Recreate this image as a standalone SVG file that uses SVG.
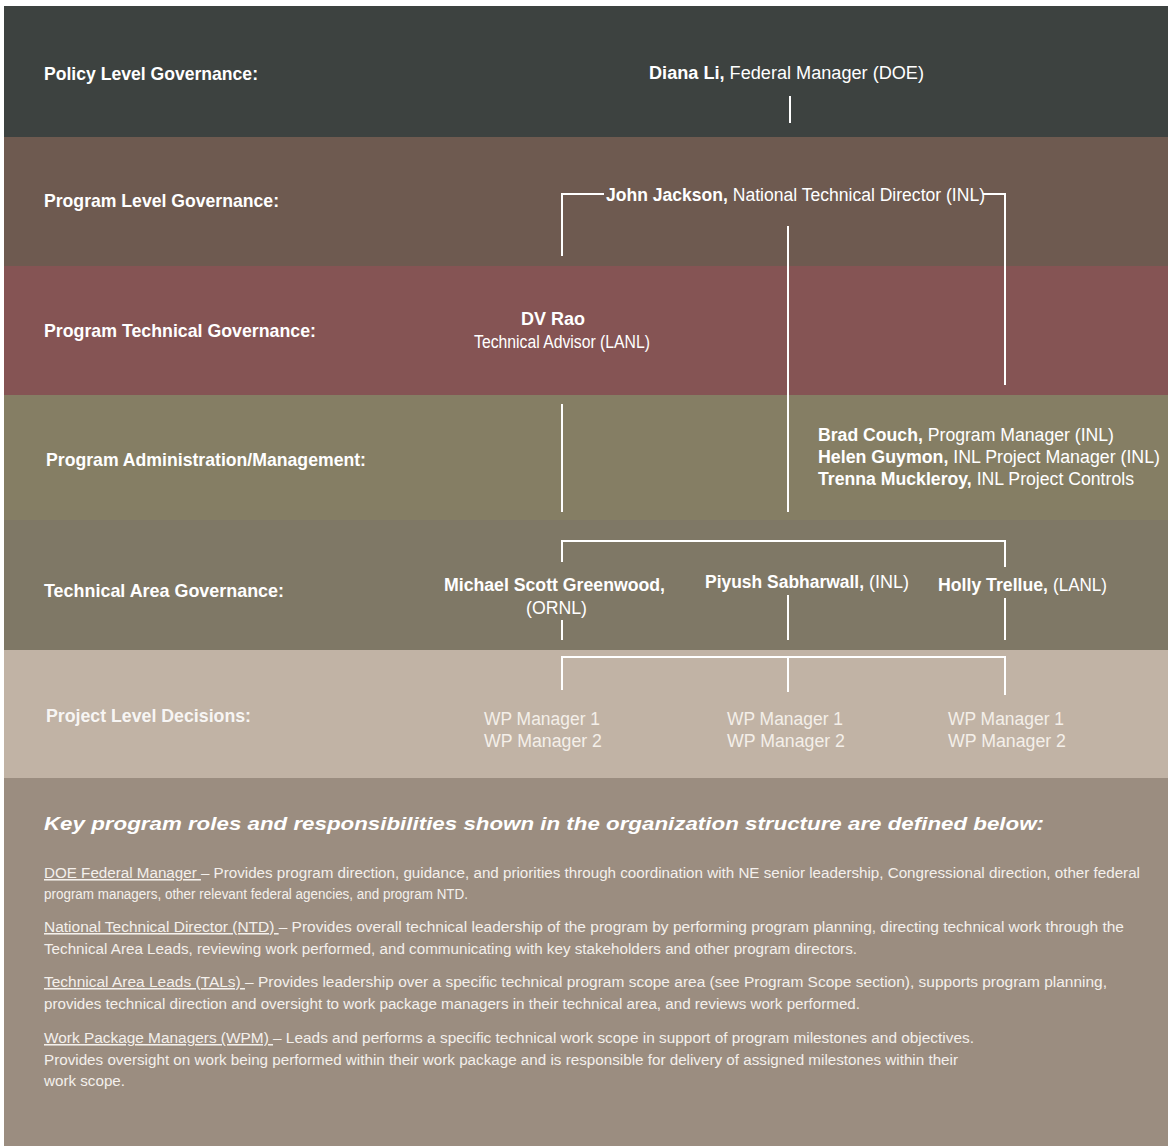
<svg xmlns="http://www.w3.org/2000/svg" width="1168" height="1146" viewBox="0 0 1168 1146">
<style>
.lbl{font-family:"Liberation Sans",Arial,sans-serif;font-weight:bold;font-size:19px;fill:#ffffff}
.nm{font-family:"Liberation Sans",Arial,sans-serif;font-size:18px;fill:#ffffff}
.b{font-weight:bold}
.wp{font-family:"Liberation Sans",Arial,sans-serif;font-size:18px;fill:#f4efe9}
.hd{font-family:"Liberation Sans",Arial,sans-serif;font-size:19px;font-weight:bold;font-style:italic;fill:#ffffff}
.bd{font-family:"Liberation Sans",Arial,sans-serif;font-size:15.5px;fill:#f4f0ec}
.u{text-decoration:underline}
.con{stroke:#ffffff;stroke-width:2;fill:none}
</style>
<rect x="0" y="0" width="1168" height="1146" fill="#ffffff"/>
<g id="bands">
<rect x="4" y="6" width="1164" height="131" fill="#3d4240"/>
<rect x="4" y="137" width="1164" height="129" fill="#6e5a50"/>
<rect x="4" y="266" width="1164" height="129" fill="#855454"/>
<rect x="4" y="395" width="1164" height="125" fill="#857e64"/>
<rect x="4" y="520" width="1164" height="130" fill="#7f7866"/>
<rect x="4" y="650" width="1164" height="128" fill="#c1b3a5"/>
<rect x="4" y="778" width="1164" height="368" fill="#9b8d80"/>
</g>
<g id="level-labels">
<text class="lbl" x="44" y="80" textLength="214" lengthAdjust="spacingAndGlyphs">Policy Level Governance:</text>
<text class="lbl" x="44" y="207" textLength="235" lengthAdjust="spacingAndGlyphs">Program Level Governance:</text>
<text class="lbl" x="44" y="337" textLength="272" lengthAdjust="spacingAndGlyphs">Program Technical Governance:</text>
<text class="lbl" x="46" y="466" textLength="320" lengthAdjust="spacingAndGlyphs">Program Administration/Management:</text>
<text class="lbl" x="44" y="597" textLength="240" lengthAdjust="spacingAndGlyphs">Technical Area Governance:</text>
<text class="lbl" x="46" y="722" textLength="205" lengthAdjust="spacingAndGlyphs" fill-opacity="0.9">Project Level Decisions:</text>
</g>
<g id="connectors">
<line class="con" x1="790" y1="96" x2="790" y2="123"/>
<path class="con" d="M604,194 H562 V256"/>
<path class="con" d="M983,194 H1005 V385"/>
<line class="con" x1="788" y1="226" x2="788" y2="512"/>
<line class="con" x1="562" y1="404" x2="562" y2="512"/>
<path class="con" d="M562,562 V541 H1005 V567"/>
<line class="con" x1="562" y1="620" x2="562" y2="640"/>
<line class="con" x1="788" y1="595" x2="788" y2="640"/>
<line class="con" x1="1005" y1="598" x2="1005" y2="640"/>
<path class="con" d="M562,690 V657 H1005 V695"/>
<line class="con" x1="788" y1="657" x2="788" y2="692"/>
</g>
<g id="node-diana">
<text class="nm" x="649" y="79" textLength="275" lengthAdjust="spacingAndGlyphs"><tspan class="b">Diana Li,</tspan> Federal Manager (DOE)</text>
</g>
<g id="node-jackson">
<text class="nm" x="606" y="201" textLength="379" lengthAdjust="spacingAndGlyphs"><tspan class="b">John Jackson,</tspan> National Technical Director (INL)</text>
</g>
<g id="node-rao">
<text class="nm b" x="553" y="325" text-anchor="middle" textLength="64" lengthAdjust="spacingAndGlyphs">DV Rao</text>
<text class="nm" x="562" y="348" text-anchor="middle" textLength="176" lengthAdjust="spacingAndGlyphs">Technical Advisor (LANL)</text>
</g>
<g id="node-admin">
<text class="nm" x="818" y="441" textLength="296" lengthAdjust="spacingAndGlyphs"><tspan class="b">Brad Couch,</tspan> Program Manager (INL)</text>
<text class="nm" x="818" y="463" textLength="342" lengthAdjust="spacingAndGlyphs"><tspan class="b">Helen Guymon,</tspan> INL Project Manager (INL)</text>
<text class="nm" x="818" y="485" textLength="316" lengthAdjust="spacingAndGlyphs"><tspan class="b">Trenna Muckleroy,</tspan> INL Project Controls</text>
</g>
<g id="node-greenwood">
<text class="nm b" x="444" y="591" textLength="221" lengthAdjust="spacingAndGlyphs">Michael Scott Greenwood,</text>
<text class="nm" x="526" y="614" textLength="61" lengthAdjust="spacingAndGlyphs">(ORNL)</text>
</g>
<g id="node-sabharwall">
<text class="nm b" x="705" y="588" textLength="159" lengthAdjust="spacingAndGlyphs">Piyush Sabharwall,</text>
<text class="nm" x="869" y="588" textLength="40" lengthAdjust="spacingAndGlyphs">(INL)</text>
</g>
<g id="node-trellue">
<text class="nm b" x="938" y="591" textLength="110" lengthAdjust="spacingAndGlyphs">Holly Trellue,</text>
<text class="nm" x="1053" y="591" textLength="54" lengthAdjust="spacingAndGlyphs">(LANL)</text>
</g>
<g id="node-wp-left">
<text class="wp" x="484" y="725" textLength="116" lengthAdjust="spacingAndGlyphs">WP Manager 1</text>
<text class="wp" x="484" y="747" textLength="118" lengthAdjust="spacingAndGlyphs">WP Manager 2</text>
</g>
<g id="node-wp-mid">
<text class="wp" x="727" y="725" textLength="116" lengthAdjust="spacingAndGlyphs">WP Manager 1</text>
<text class="wp" x="727" y="747" textLength="118" lengthAdjust="spacingAndGlyphs">WP Manager 2</text>
</g>
<g id="node-wp-right">
<text class="wp" x="948" y="725" textLength="116" lengthAdjust="spacingAndGlyphs">WP Manager 1</text>
<text class="wp" x="948" y="747" textLength="118" lengthAdjust="spacingAndGlyphs">WP Manager 2</text>
</g>
<g id="definitions">
<text class="hd" x="44" y="830" textLength="1000" lengthAdjust="spacingAndGlyphs">Key program roles and responsibilities shown in the organization structure are defined below:</text>
<text class="bd" x="44" y="878" textLength="1096" lengthAdjust="spacingAndGlyphs"><tspan class="u">DOE Federal Manager </tspan>– Provides program direction, guidance, and priorities through coordination with NE senior leadership, Congressional direction, other federal</text>
<text class="bd" x="44" y="899" textLength="424" lengthAdjust="spacingAndGlyphs">program managers, other relevant federal agencies, and program NTD.</text>
<text class="bd" x="44" y="932" textLength="1080" lengthAdjust="spacingAndGlyphs"><tspan class="u">National Technical Director (NTD) </tspan>– Provides overall technical leadership of the program by performing program planning, directing technical work through the</text>
<text class="bd" x="44" y="954" textLength="813" lengthAdjust="spacingAndGlyphs">Technical Area Leads, reviewing work performed, and communicating with key stakeholders and other program directors.</text>
<text class="bd" x="44" y="987" textLength="1063" lengthAdjust="spacingAndGlyphs"><tspan class="u">Technical Area Leads (TALs) </tspan>– Provides leadership over a specific technical program scope area (see Program Scope section), supports program planning,</text>
<text class="bd" x="44" y="1009" textLength="816" lengthAdjust="spacingAndGlyphs">provides technical direction and oversight to work package managers in their technical area, and reviews work performed.</text>
<text class="bd" x="44" y="1043" textLength="930" lengthAdjust="spacingAndGlyphs"><tspan class="u">Work Package Managers (WPM) </tspan>– Leads and performs a specific technical work scope in support of program milestones and objectives.</text>
<text class="bd" x="44" y="1065" textLength="914" lengthAdjust="spacingAndGlyphs">Provides oversight on work being performed within their work package and is responsible for delivery of assigned milestones within their</text>
<text class="bd" x="44" y="1086" textLength="81" lengthAdjust="spacingAndGlyphs">work scope.</text>
</g>
</svg>
